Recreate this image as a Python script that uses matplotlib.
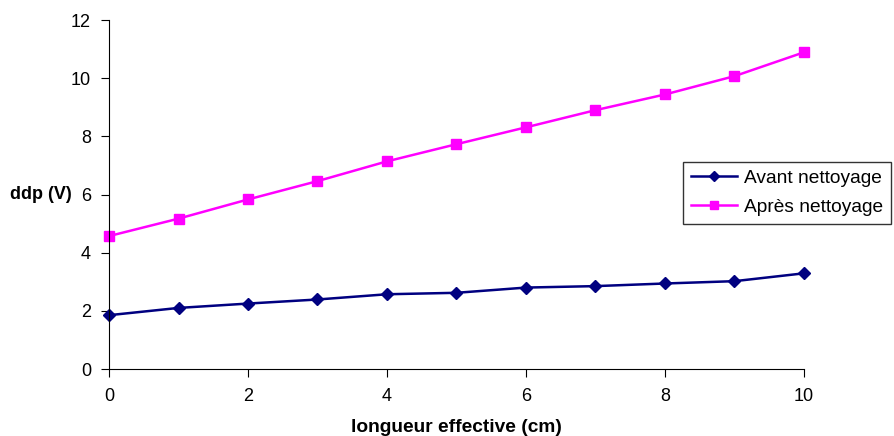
import numpy as np
import matplotlib
matplotlib.use('Agg')
import matplotlib.pyplot as plt

plt.rcParams['font.family'] = ['Liberation Sans', 'DejaVu Sans']

# longueur effective (cm)
longueur = [0, 1, 2, 3, 4, 5, 6, 7, 8, 9, 10]
# ddp (V)
avant = [1.85, 2.10, 2.25, 2.39, 2.57, 2.62, 2.80, 2.85, 2.94, 3.02, 3.29]
apres = [4.57, 5.17, 5.83, 6.46, 7.14, 7.73, 8.31, 8.90, 9.44, 10.07, 10.89]

fig = plt.figure(figsize=(8.94, 4.36), dpi=100)
ax = fig.add_axes([109 / 894, 1 - 369 / 436, (804 - 109) / 894, 349 / 436])

ax.plot(longueur, avant, color='#000080', marker='D', markersize=6.5, lw=1.8,
        label='Avant nettoyage', clip_on=False)
ax.plot(longueur, apres, color='#FF00FF', marker='s', markersize=7, lw=1.8,
        label='Après nettoyage', clip_on=False)

ax.set_xlim(0, 10)
ax.set_ylim(0, 12)
ax.set_xticks(range(0, 11, 2))
ax.set_yticks(range(0, 13, 2))
ax.spines['top'].set_visible(False)
ax.spines['right'].set_visible(False)
ax.tick_params(labelsize=13, length=6, direction='out')
ax.tick_params(axis='y', pad=7)
ax.tick_params(axis='x', pad=8)

ax.set_xlabel('longueur effective (cm)', fontsize=13.8, fontweight='bold', labelpad=10)
ax.set_ylabel('ddp (V)', fontsize=13, fontweight='bold', rotation=0, ha='left', va='center')
ax.yaxis.set_label_coords(-99 / 695, 0.5)

leg = fig.legend(loc='upper left', bbox_to_anchor=(683 / 894, 1 - 162 / 436),
                 fontsize=13.8, frameon=True, fancybox=False, edgecolor='black',
                 handlelength=2.4, handletextpad=0.4, borderpad=0.4, labelspacing=0.6,
                 borderaxespad=0, markerscale=0.75)
leg.get_frame().set_linewidth(1.0)

fig.savefig('out.png', dpi=100)
